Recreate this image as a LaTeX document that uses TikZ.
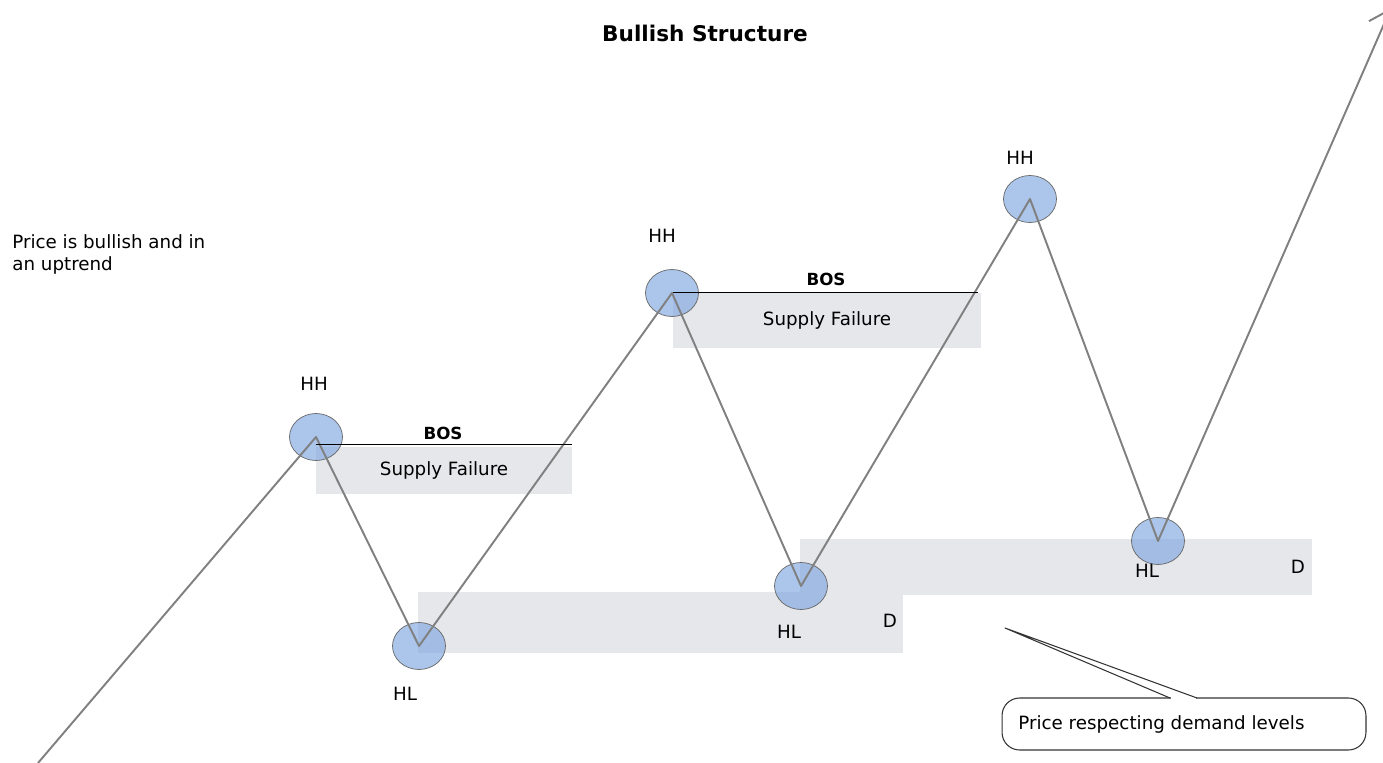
\documentclass[tikz,border=0pt]{standalone}
\usepackage{fontspec}
\setmainfont{DejaVu Sans}
\usetikzlibrary{shapes.geometric,arrows.meta}

\definecolor{zonegray}{RGB}{230,231,235}
\definecolor{pathgray}{RGB}{128,128,128}
\definecolor{pointblue}{RGB}{126,166,224}

\tikzset{
  swing/.style={ellipse,draw=black!60,fill=pointblue,fill opacity=0.65,
    minimum width=1.06cm,minimum height=0.94cm,inner sep=0pt},
  zone/.style={rectangle,fill=zonegray,inner sep=0pt},
  lbl/.style={font=\fontsize{10.4}{12.5}\selectfont,inner sep=0pt},
  bos/.style={font=\fontsize{9.5}{11}\selectfont\bfseries,inner sep=0pt}
}

\begin{document}
\begin{tikzpicture}[x=0.02cm,y=-0.02cm,line join=round]
\useasboundingbox (0,0) rectangle (1383,763);
\clip (0,0) rectangle (1383,763);

% zones
\node[zone,minimum width=5.12cm,minimum height=0.94cm] (sf1) at (444,470.5) {};
\node[zone,minimum width=6.16cm,minimum height=1.1cm] (sf2) at (827,320.5) {};
\node[zone,minimum width=9.7cm,minimum height=1.22cm] (dz1) at (660.5,622.5) {};
\node[zone,minimum width=10.24cm,minimum height=1.12cm] (dz2) at (1056,567) {};

% swing points
\node[swing] (hh1) at (316,437) {};
\node[swing] (hl1) at (419,646) {};
\node[swing] (hh2) at (672,293) {};
\node[swing] (hl2) at (801,586) {};
\node[swing] (hh3) at (1030,199) {};
\node[swing] (hl3) at (1158,541) {};

\coordinate (start) at (38,763);
\coordinate (tip) at (1391,8);

% price path
\draw[pathgray,line width=1.1pt,-{Straight Barb[length=11pt,width=17pt]}]
  (start) -- (hh1.center) -- (hl1.center) -- (hh2.center) -- (hl2.center)
  -- (hh3.center) -- (hl3.center) -- (tip);

% break of structure
\draw[black,line width=0.6pt] ([yshift=1pt]sf1.north west) -- ([yshift=1pt]sf1.north east);
\draw[black,line width=0.6pt] (sf2.north west) -- ([xshift=-2pt]sf2.north east);
\node[bos] (bos1) at (443,433) {BOS};
\node[bos] (bos2) at (826,279) {BOS};
\node[lbl] at (sf1) {Supply Failure};
\node[lbl] at (sf2) {Supply Failure};

% labels
\node[lbl] (hhl1) at (314,384) {HH};
\node[lbl] (hhl2) at (662,236) {HH};
\node[lbl] (hhl3) at (1020,158) {HH};
\node[lbl] (hll1) at (405,694) {HL};
\node[lbl] (hll2) at (789,632) {HL};
\node[lbl] (hll3) at (1147,571) {HL};
\node[lbl] (d1) at (890,621) {D};
\node[lbl] (d2) at (1298,567) {D};

\node[font=\fontsize{12.3}{14}\selectfont\bfseries] (title) at (705,33) {Bullish Structure};
\node[lbl,anchor=north west,align=left] (note) at (12,234) {Price is bullish and in\\an uptrend};

% callout
\node[draw=black!80,line width=0.6pt,rounded corners=10pt,minimum width=7.28cm,
  minimum height=1.04cm] (box) at (1184,724) {};
\coordinate (pointer) at (1005,628);
\draw[white,line width=1.5pt] (1171,698) -- (1196,698);
\draw[black!80,line width=0.6pt] (1170,698) -- (pointer) -- (1197,698);
\node[lbl,anchor=west] (callout) at (1018,724) {Price respecting demand levels};
\end{tikzpicture}
\end{document}
